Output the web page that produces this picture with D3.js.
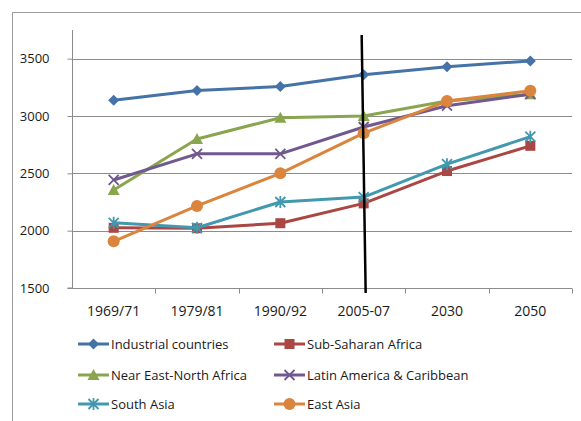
<!DOCTYPE html>
<html>
<head>
<meta charset="utf-8">
<script src="https://cdn.jsdelivr.net/npm/d3@7"></script>
<style>
  html, body { margin: 0; padding: 0; background: #fff; }
  svg { display: block; }
  text { font-family: "Open Sans", "Noto Sans", sans-serif; fill: #1a1a1a; }
</style>
</head>
<body>
<svg id="chart" width="581" height="421"></svg>
<script>
// Dietary energy supply, kcal per person per day
const periods = ["1969/71", "1979/81", "1990/92", "2005-07", "2030", "2050"];
const yTicks = [1500, 2000, 2500, 3000, 3500];

const seriesNames = [
  "Industrial countries", "Sub-Saharan Africa", "Near East-North  Africa",
  "Latin America & Caribbean", "South Asia", "East Asia"
];
const industrial   = [3138, 3223, 3257, 3360, 3430, 3480];
const subSaharan   = [2025, 2021, 2065, 2238, 2520, 2740];
const nearEast     = [2355, 2800, 2985, 3000, 3130, 3190];
const latinAmerica = [2442, 2670, 2670, 2904, 3090, 3190];
const southAsia    = [2068, 2025, 2250, 2293, 2580, 2820];
const eastAsia     = [1907, 2216, 2500, 2850, 3130, 3220];

const seriesColors = ["#4572A7", "#AA4643", "#89A54E", "#71588F", "#4198AF", "#DB843D"];
const seriesMarkers = ["diamond", "square", "triangle", "x", "star", "circle"];

const series = [industrial, subSaharan, nearEast, latinAmerica, southAsia, eastAsia]
  .map((values, i) => ({ name: seriesNames[i], values, color: seriesColors[i], marker: seriesMarkers[i] }));

const svg = d3.select("#chart");

// outer chart frame
svg.append("path")
  .attr("d", "M12.5,421 V12.5 H581")
  .attr("fill", "none").attr("stroke", "#9a9a9a").attr("stroke-width", 1);

const plot = { left: 72, right: 572, top: 30, bottom: 288 };

const x = d3.scaleBand().domain(periods).range([plot.left, plot.right]).padding(0);
const y = d3.scaleLinear().domain([1500, 3750]).range([plot.bottom, plot.top]);
const cx = d => x(d) + x.bandwidth() / 2;

// horizontal gridlines
svg.append("g").selectAll("line").data(yTicks.filter(t => t > 1500)).join("line")
  .attr("x1", plot.left).attr("x2", plot.right)
  .attr("y1", d => Math.round(y(d)) + 0.5).attr("y2", d => Math.round(y(d)) + 0.5)
  .attr("stroke", "#8c8c8c").attr("stroke-width", 1);

// y axis
const yAxis = svg.append("g")
  .attr("transform", `translate(${plot.left + 0.5},0)`)
  .call(d3.axisLeft(y).tickValues(yTicks).tickSize(5).tickPadding(18).tickFormat(d3.format("d")));
yAxis.select(".domain").attr("stroke", "#8c8c8c").attr("d", `M-5,${y(1500)}H0V${plot.top}`);
yAxis.selectAll(".tick line").attr("stroke", "#8c8c8c");
yAxis.selectAll(".tick text").attr("font-size", 13).style("font-family", "'Open Sans', sans-serif").attr("fill", "#1a1a1a");

// x axis with ticks between categories
const xAxisG = svg.append("g").attr("transform", `translate(0,${Math.round(plot.bottom) + 0.5})`);
xAxisG.append("line").attr("x1", plot.left).attr("x2", plot.right).attr("stroke", "#8c8c8c");
xAxisG.selectAll("line.tk").data(periods.slice(1).concat(["end"])).join("line")
  .attr("class", "tk")
  .attr("x1", (d, i) => Math.round(plot.left + x.bandwidth() * (i + 1)) + 0.5)
  .attr("x2", (d, i) => Math.round(plot.left + x.bandwidth() * (i + 1)) + 0.5)
  .attr("y1", 0).attr("y2", 5).attr("stroke", "#8c8c8c");
xAxisG.selectAll("text").data(periods).join("text")
  .attr("x", d => cx(d)).attr("y", 27)
  .attr("text-anchor", "middle").attr("font-size", 14)
  .text(d => d);

// marker drawing
function drawMarker(g, type, color, px, py) {
  if (type === "diamond") {
    g.append("path").attr("d", `M${px},${py - 5.5}L${px + 5.5},${py}L${px},${py + 5.5}L${px - 5.5},${py}Z`).attr("fill", color);
  } else if (type === "square") {
    g.append("rect").attr("x", px - 5).attr("y", py - 5).attr("width", 10).attr("height", 10).attr("fill", color);
  } else if (type === "triangle") {
    g.append("path").attr("d", `M${px},${py - 6}L${px + 6},${py + 5}L${px - 6},${py + 5}Z`).attr("fill", color);
  } else if (type === "x") {
    g.append("path").attr("d", `M${px - 5},${py - 5}L${px + 5},${py + 5}M${px - 5},${py + 5}L${px + 5},${py - 5}`)
      .attr("stroke", color).attr("stroke-width", 1.8).attr("fill", "none");
  } else if (type === "star") {
    g.append("path").attr("d", `M${px - 5},${py - 5}L${px + 5},${py + 5}M${px - 5},${py + 5}L${px + 5},${py - 5}M${px},${py - 6}L${px},${py + 6}`)
      .attr("stroke", color).attr("stroke-width", 1.8).attr("fill", "none");
  } else if (type === "circle") {
    g.append("circle").attr("cx", px).attr("cy", py).attr("r", 6).attr("fill", color);
  }
}

// series lines and markers
const line = d3.line().x((d, i) => cx(periods[i])).y(d => y(d));
series.forEach(s => {
  const g = svg.append("g");
  g.append("path").datum(s.values).attr("d", line)
    .attr("fill", "none").attr("stroke", s.color).attr("stroke-width", 3)
    .attr("stroke-linejoin", "round");
  s.values.forEach((v, i) => drawMarker(g, s.marker, s.color, cx(periods[i]), y(v)));
});

// divider between observed and projected periods
const divX = cx("2005-07");
svg.append("line")
  .attr("x1", divX - 2).attr("y1", 35).attr("x2", divX + 2).attr("y2", 293)
  .attr("stroke", "#000").attr("stroke-width", 2.5);

// legend
const legendCols = [78, 274];
const legendRows = [344, 375, 404];
series.forEach((s, i) => {
  const lx = legendCols[i % 2], ly = legendRows[Math.floor(i / 2)];
  const g = svg.append("g");
  g.append("line").attr("x1", lx).attr("x2", lx + 31).attr("y1", ly).attr("y2", ly)
    .attr("stroke", s.color).attr("stroke-width", 3);
  drawMarker(g, s.marker, s.color, lx + 15.5, ly);
  g.append("text").attr("x", lx + 33).attr("y", ly + 4.5).attr("font-size", 13).text(s.name);
});
</script>
</body>
</html>
